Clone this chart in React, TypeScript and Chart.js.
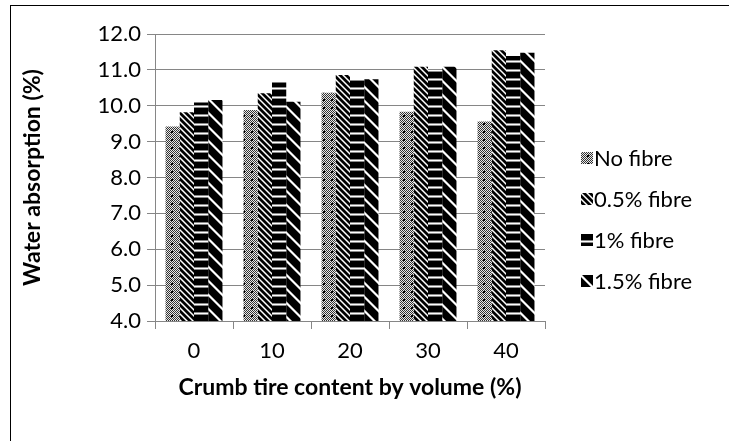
import React, { useEffect, useRef } from 'react';
import { Chart, registerables } from 'chart.js';

Chart.register(...registerables);

const categories = ['0', '10', '20', '30', '40'];
const seriesNames = ['No fibre', '0.5% fibre', '1% fibre', '1.5% fibre'];
const noFibre = [9.42, 9.88, 10.36, 9.83, 9.56];
const fibre05 = [9.82, 10.35, 10.86, 11.09, 11.55];
const fibre1 = [10.09, 10.65, 10.74, 11.02, 11.39];
const fibre15 = [10.16, 10.11, 10.74, 11.09, 11.48];
const yMin = 4;
const yMax = 12;
const yStep = 1;

const FONT = 'Lato';
const FS = 22;
const TFS = 23;

function makePattern(kind: string): CanvasPattern | string {
  const c = document.createElement('canvas');
  let w = 8;
  let h = 8;
  if (kind === 'dots') { w = 8; h = 8; }
  if (kind === 'thin') { w = 6; h = 6; }
  if (kind === 'horiz') { w = 4; h = 9; }
  if (kind === 'wide') { w = 14; h = 14; }
  c.width = w;
  c.height = h;
  const ctx = c.getContext('2d')!;
  for (let y = 0; y < h; y++) {
    for (let x = 0; x < w; x++) {
      let col = '#fff';
      if (kind === 'dots') {
        col = (x + y) % 2 === 0 ? '#333333' : '#e8e8e8';
        const spot = (x === 3 || x === 4) && (y === 3 || y === 4);
        if (spot) col = '#000';
      } else if (kind === 'thin') {
        const d = (((x - y) % 6) + 6) % 6;
        col = d < 3 ? '#000' : d === 4 ? '#ffffff' : '#8a8a8a';
      } else if (kind === 'horiz') {
        col = y < 6 ? '#000' : y === 7 ? '#ffffff' : '#8a8a8a';
      } else if (kind === 'wide') {
        const d = (((x - y) % 14) + 14) % 14;
        col = d < 10 ? '#000' : d === 11 || d === 12 ? '#ffffff' : '#8a8a8a';
      }
      ctx.fillStyle = col;
      ctx.fillRect(x, y, 1, 1);
    }
  }
  const main = document.createElement('canvas').getContext('2d')!;
  return main.createPattern(c, 'repeat') || '#000';
}

const legendPlugin = {
  id: 'sideLegend',
  afterDraw(chart: any) {
    const ctx = chart.ctx;
    const ds = chart.data.datasets;
    const spacing = 41;
    const centerY = 219;
    const startY = centerY - ((ds.length - 1) * spacing) / 2;
    const boxX = 581;
    const box = 12;
    ctx.save();
    ctx.font = `${FS}px ${FONT}`;
    ctx.textBaseline = 'middle';
    ctx.textAlign = 'left';
    ds.forEach((d: any, i: number) => {
      const y = startY + i * spacing;
      ctx.fillStyle = d.backgroundColor;
      ctx.fillRect(boxX, Math.round(y - box / 2), box, box);
      ctx.fillStyle = '#000';
      ctx.fillText(d.label, boxX + box + 1, y + 1);
    });
    ctx.restore();
  },
};

const borderPlugin = {
  id: 'outerBorder',
  beforeDraw(chart: any) {
    const ctx = chart.ctx;
    ctx.save();
    ctx.fillStyle = '#fff';
    ctx.fillRect(0, 0, chart.width, chart.height);
    ctx.strokeStyle = '#000';
    ctx.lineWidth = 1;
    ctx.strokeRect(10.5, 5.5, chart.width + 20, chart.height + 20);
    ctx.restore();
  },
};

export default function App() {
  const ref = useRef<HTMLCanvasElement | null>(null);
  useEffect(() => {
    if (!ref.current) return;
    const patterns = [makePattern('dots'), makePattern('thin'), makePattern('horiz'), makePattern('wide')];
    const values = [noFibre, fibre05, fibre1, fibre15];
    const chart = new Chart(ref.current, {
      type: 'bar',
      data: {
        labels: categories,
        datasets: seriesNames.map((name, i) => ({
          label: name,
          data: values[i],
          backgroundColor: patterns[i] as any,
          borderWidth: 0,
          barPercentage: 1,
          categoryPercentage: 0.73,
        })),
      },
      options: {
        animation: false,
        responsive: false,
        devicePixelRatio: 1,
        layout: { padding: { left: 10, top: 34, right: 184, bottom: 0 } },
        plugins: { legend: { display: false }, tooltip: { enabled: false } },
        scales: {
          x: {
            grid: { display: true, drawOnChartArea: false, drawTicks: true, tickLength: 8, color: '#868686', offset: true },
            border: { color: '#868686', width: 1 },
            ticks: { font: { family: FONT, size: FS }, color: '#000', padding: 9 },
            title: {
              display: true,
              text: 'Crumb tire content by volume (%)',
              font: { family: FONT, size: TFS, weight: 'bold' },
              color: '#000',
              padding: 40,
            },
            afterFit: (s: any) => { s.height = 120; },
          },
          y: {
            min: yMin,
            max: yMax,
            ticks: {
              stepSize: yStep,
              callback: (v: any) => Number(v).toFixed(1),
              font: { family: FONT, size: FS },
              color: '#000',
              padding: 6,
            },
            grid: { color: '#868686', tickLength: 8 },
            border: { color: '#868686', width: 1 },
            title: {
              display: true,
              text: 'Water absorption (%)',
              font: { family: FONT, size: TFS, weight: 'bold' },
              color: '#000',
              padding: 9,
            },
            afterFit: (s: any) => { s.width = 145; },
          },
        },
      },
      plugins: [borderPlugin, legendPlugin],
    });
    return () => chart.destroy();
  }, []);
  return (
    <div style={{ position: 'fixed', left: 0, top: 0, width: 729, height: 441, background: '#fff' }}>
      <canvas ref={ref} width={729} height={441} style={{ width: 729, height: 441 }} />
    </div>
  );
}
